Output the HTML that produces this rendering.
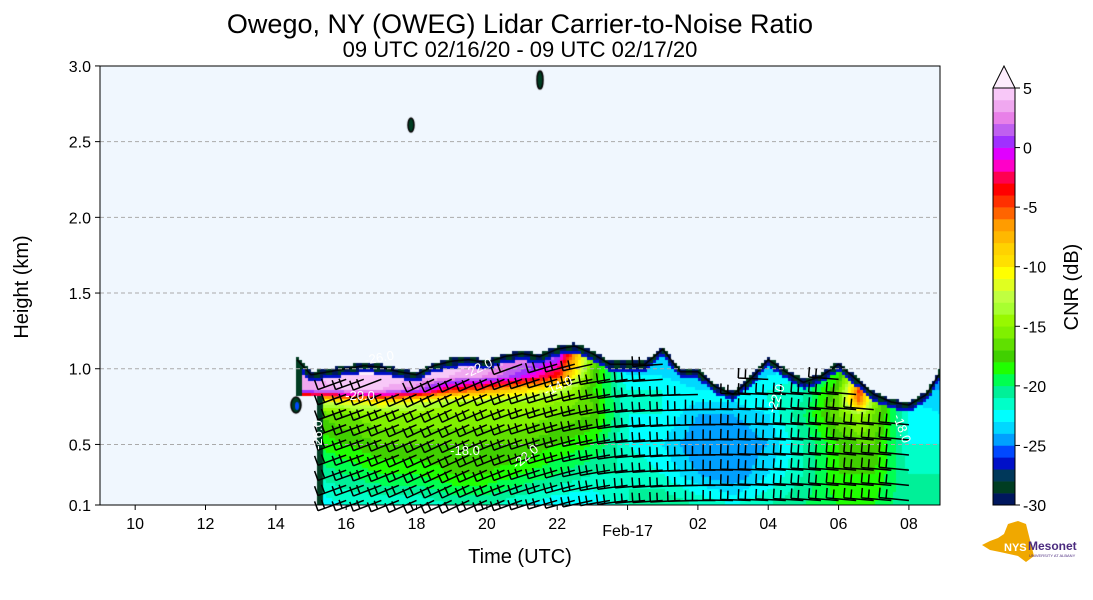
<!DOCTYPE html>
<html><head><meta charset="utf-8"><style>
body{margin:0;background:#fff;width:1093px;height:600px;overflow:hidden;position:relative;font-family:"Liberation Sans","DejaVu Sans",sans-serif}
svg{position:absolute;left:0;top:0}
canvas{position:absolute;left:0;top:0}
</style></head><body>
<svg id="bg" width="1093" height="600">
<rect x="100" y="66" width="840" height="439" fill="#f0f7fe"/>
</svg>
<canvas id="cv" width="1093" height="600"></canvas>
<svg id="fg" width="1093" height="600"></svg>
<script>
// ---- data ----
const colTimes=[15,16,17,18,19,20,21,22,23,24,25,26,27,28,29,30,30.6,31,32,33];
const rowHeights=[0.1,0.3,0.5,0.7,0.78,0.86,0.95,1.15];
const cnr=[
[-23,-21,-19,-17,-13,3,4,4],
[-22,-20,-18,-16,-11,4,5,5],
[-22,-19,-17,-15,-10,4,5,5],
[-22,-19,-17,-15,-12,2,5,5],
[-21,-18,-17,-15,-14,-4,4,5],
[-21,-18,-17,-15,-14,-6,3,5],
[-22,-19,-17,-15,-14,-9,0,5],
[-23,-20,-18,-16,-15,-12,-4,4],
[-23,-21,-19,-17,-17,-18,-17,-15],
[-21,-21,-22,-22,-22,-22,-23,-24],
[-20,-22,-23,-22,-22,-22,-23,-24],
[-21,-24,-25,-24,-23,-23,-24,-25],
[-22,-25,-25,-24,-23,-23,-24,-25],
[-21,-23,-24,-23,-22,-22,-23,-25],
[-20,-21,-21,-20,-21,-21,-22,-24],
[-19,-18,-18,-16,-16,-17,-18,-20],
[-19,-18,-17,-14,-5,-4,-12,-20],
[-19,-18,-17,-16,-15,-16,-21,-23],
[-21,-21,-22,-22,-23,-24,-25,-25],
[-21,-21,-22,-23,-24,-24,-25,-25]];
const topTimes=[14.6,15,15.5,16,16.5,17,17.5,18,18.5,19,19.5,20,20.5,21,21.5,22,22.5,23,23.5,24,24.5,25,25.5,26,26.5,27,27.5,28,28.5,29,29.5,30,30.5,31,31.5,32,32.5,32.9];
const topHeights=[1.08,0.98,1.0,1.02,1.04,1.03,1.0,0.98,1.04,1.07,1.08,1.06,1.1,1.12,1.1,1.15,1.17,1.12,1.05,1.05,1.05,1.15,1.0,1.0,0.9,0.85,0.95,1.08,1.0,0.93,0.97,1.05,0.95,0.85,0.8,0.78,0.85,1.0];
const barbDir=[20,20,22,25,25,22,18,15,10,5,3,0,-2,-3,-4,-5,-5,-6];
const xTicks=[10,12,14,16,18,20,22,24,26,28,30,32];
const xTickLabels=["10","12","14","16","18","20","22","Feb-17","02","04","06","08"];
const yTicks=[0.1,0.5,1.0,1.5,2.0,2.5,3.0];
const cbTicks=[-30,-25,-20,-15,-10,-5,0,5];
const palette=['#00175e','#003d22','#00385a','#0010c8','#0048ff','#00a0ff','#00d8ff','#00ffff','#00ffc8','#00f098','#00ff50','#20ff00','#40d000','#60e000','#80f000','#98f800','#a8ff30','#c0ff40','#e0ff20','#ffff00','#ffe000','#ffd200','#ffb800','#ff9c00','#ff6400','#ff3000','#ff0000','#ff0050','#ff00c8','#e000ff','#a030ff','#c060f0','#e880e8','#f0a8f0','#f8c8f8','#fcecfc'];

// ---- axes ----
const X=t=>100+(t-9)*35.17;
const Y=h=>505-(h-0.1)*151.4;
const CB=v=>505-(v+30)*11.914;
function lerp(xs,ys,x){if(x<=xs[0])return ys[0];for(let i=1;i<xs.length;i++){if(x<=xs[i]){const f=(x-xs[i-1])/(xs[i]-xs[i-1]);return ys[i-1]+f*(ys[i]-ys[i-1]);}}return ys[ys.length-1];}
function topAt(t){if(t<topTimes[0]||t>33)return -1;return lerp(topTimes,topHeights,t);}
function valAt(t,h){let ci=0;while(ci<colTimes.length-2&&t>colTimes[ci+1])ci++;
 let f=(t-colTimes[ci])/(colTimes[ci+1]-colTimes[ci]);f=Math.max(0,Math.min(1,f));
 const a=cnr[ci].map((v,k)=>v+f*(cnr[ci+1][k]-v));return lerp(rowHeights,a,h);}
function color(v){let i=Math.floor(v+30);i=Math.max(0,Math.min(35,i));return palette[i];}

// ---- field ----
const ctx=document.getElementById('cv').getContext('2d');
ctx.save();ctx.beginPath();ctx.rect(100,66,840,439);ctx.clip();
for(let px=290;px<940;px+=3){for(let py=330;py<505;py+=3){
 const t=(px+1.5-100)/35.17+9,h=(505-(py+1.5))/151.4+0.1;const tp=topAt(t);if(tp<0||h>tp)continue;
 const start=h>0.82?14.6:15.2; if(t<start)continue;
 let v=valAt(t,h);const d=tp-h;
 if(d<0.045)v=(Math.floor(px/6)%2?-29.5:-28.5);else if(d<0.065)v=Math.min(v,-26.5);
 if(t<start+0.12)v=-28.5;
 ctx.fillStyle=color(v);ctx.fillRect(px,py,3,3);}}
// isolated blobs
ctx.fillStyle='#003d22';
[[296,405,5,8],[411,125,3,7],[540,80,3,9]].forEach(b=>{ctx.beginPath();ctx.ellipse(b[0],b[1],b[2],b[3],0,0,7);ctx.fill();ctx.strokeStyle='#000';ctx.lineWidth=1.5;ctx.stroke();});
ctx.fillStyle='#0048ff';ctx.beginPath();ctx.ellipse(297,406,2,4,0,0,7);ctx.fill();
// top outline
ctx.strokeStyle='#000';ctx.lineWidth=1.5;ctx.beginPath();
for(let t=14.6;t<=32.9;t+=0.05){const yy=Y(topAt(t)-0.02);t===14.6?ctx.moveTo(X(t),yy):ctx.lineTo(X(t),yy);}ctx.stroke();
ctx.restore();

// ---- overlay SVG ----
const NS='http://www.w3.org/2000/svg';const fg=document.getElementById('fg');
function el(tag,attrs,parent){const e=document.createElementNS(NS,tag);for(const k in attrs)e.setAttribute(k,attrs[k]);(parent||fg).appendChild(e);return e;}
// grid
yTicks.slice(1,6).forEach(h=>{const g=el('line',{x1:100,x2:940,y1:Y(h),y2:Y(h),stroke:'#aaa','stroke-dasharray':'4,3','stroke-width':1});

});
// barbs
const barbs=el('g',{stroke:'#000','stroke-width':1.5,fill:'none'});


for(let i=0;i<barbDir.length*2-3;i++){const t=16+i*0.5;const tp=topAt(t);
 const ang=lerp(barbDir.map((_,k)=>15.5+k),barbDir,t)*Math.PI/180;
 for(let h=0.13;h<tp-0.08;h+=0.1){const x0=X(t),y0=Y(h);
  const x1=x0-30*Math.cos(ang),y1=y0+30*Math.sin(ang);
  const p=el('path',{d:`M${x0},${y0}L${x1},${y1}M${x1},${y1}l${-10*Math.sin(ang)},${-10*Math.cos(ang)}M${x1+7*Math.cos(ang)},${y1-7*Math.sin(ang)}l${-9*Math.sin(ang)},${-9*Math.cos(ang)}`},barbs);
  
  }}
// contour labels
[['-26.0',380,362,-10],['-20.0',360,400,0],['-18.0',465,455,0],['-22.0',528,460,-40],['-14.0',560,390,-25],['-22.0',480,372,-25],['-22.0',780,400,-70],['-18.0',898,430,70],['-26.0',322,435,-90]].forEach(l=>{
 const t=el('text',{x:l[1],y:l[2],fill:'#fff','font-size':13,'text-anchor':'middle',transform:`rotate(${l[3]} ${l[1]} ${l[2]})`});t.textContent=l[0];
 
 });
// frame
const fr=el('rect',{x:100,y:66,width:840,height:439,fill:'none',stroke:'#000','stroke-width':1});


// x ticks
xTicks.forEach((t,i)=>{el('line',{x1:X(t),x2:X(t),y1:505,y2:510,stroke:'#000'});
 const tx=el('text',{x:X(t),y:i===7?536:529,'font-size':16,'text-anchor':'middle'});tx.textContent=xTickLabels[i];
 
 });
yTicks.forEach(h=>{el('line',{x1:95,x2:100,y1:Y(h),y2:Y(h),stroke:'#000'});
 const tx=el('text',{x:91,y:Y(h)+6,'font-size':16,'text-anchor':'end'});tx.textContent=h.toFixed(1);
 
 });
// colorbar
for(let i=0;i<35;i++){const r=el('rect',{x:993,y:CB(i-29),width:22,height:12.2,fill:palette[i]});
 
 }
const tri=el('path',{d:`M993,${CB(5)}L1004,66L1015,${CB(5)}Z`,fill:palette[35],stroke:'#000','stroke-width':1});


el('path',{d:`M993,${CB(5)}V505H1015V${CB(5)}`,fill:'none',stroke:'#000','stroke-width':1});
cbTicks.forEach(v=>{el('line',{x1:1015,x2:1020,y1:CB(v),y2:CB(v),stroke:'#000'});
 const tx=el('text',{x:1023,y:CB(v)+6,'font-size':16});tx.textContent=v;
 
 });
</script>
<svg width="1093" height="600" style="pointer-events:none">
<text x="520" y="33" font-size="27" text-anchor="middle">Owego, NY (OWEG) Lidar Carrier-to-Noise Ratio</text>
<text x="520" y="57" font-size="22" text-anchor="middle">09 UTC 02/16/20 - 09 UTC 02/17/20</text>
<text x="520" y="563" font-size="20" text-anchor="middle">Time (UTC)</text>
<text x="28" y="287" font-size="20" text-anchor="middle" transform="rotate(-90 28 287)">Height (km)</text>
<text x="1078" y="287" font-size="20" text-anchor="middle" transform="rotate(-90 1078 287)">CNR (dB)</text>
<g>
<path d="M982,545 L990,541 L998,538 L1004,534 L1008,524 L1018,521 L1026,524 L1030,540 L1034,556 L1026,562 L1018,556 L1000,552 L990,550 Z" fill="#f0a800"/>
<text x="1004" y="551" font-size="11" font-weight="bold" fill="#fff">NYS</text>
<text x="1028" y="550" font-size="12" font-weight="bold" fill="#4b2b7f">Mesonet</text>
<text x="1029" y="557" font-size="4" fill="#4b2b7f">UNIVERSITY AT ALBANY</text>
</g>
</svg>
</body></html>
